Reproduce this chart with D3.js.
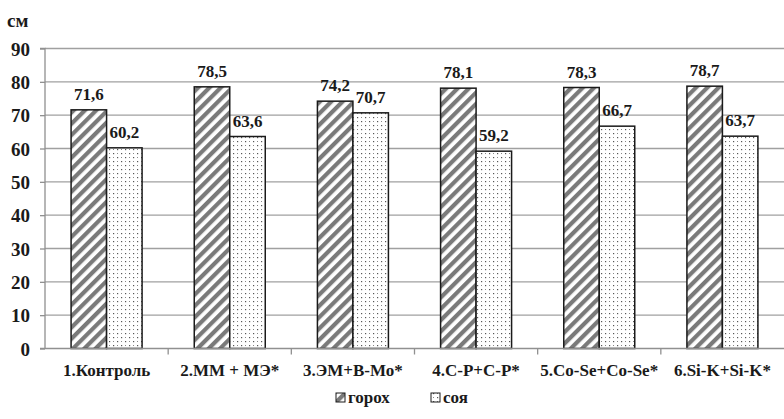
<!DOCTYPE html>
<html><head><meta charset="utf-8">
<script src="https://cdn.jsdelivr.net/npm/d3@7"></script>
<style>body{margin:0;background:#fff}svg{display:block}</style>
</head><body><svg id="c" width="784" height="419"></svg>
<script>
const categories = ["1.Контроль", "2.ММ + МЭ*", "3.ЭМ+В-Мо*", "4.С-Р+С-Р*", "5.Co-Se+Co-Se*", "6.Si-K+Si-K*"];
const seriesNames = ["горох", "соя"];
const gorokh = [71.6, 78.5, 74.2, 78.1, 78.3, 78.7];
const soya = [60.2, 63.6, 70.7, 59.2, 66.7, 63.7];
const yTicks = [0, 10, 20, 30, 40, 50, 60, 70, 80, 90];

const FONT = "Liberation Serif";
const svg = d3.select("#c");
const m = {l: 45, r: 784, t: 48.5, b: 348.5};
const defs = svg.append("defs");
const hatch = defs.append("pattern").attr("id","hatch").attr("patternUnits","userSpaceOnUse")
  .attr("width",8).attr("height",8).attr("patternTransform","rotate(45)");
hatch.append("rect").attr("width",8).attr("height",8).attr("fill","#fff");
hatch.append("rect").attr("x",0).attr("width",4.2).attr("height",8).attr("fill","#7a7a7a");
const dots = defs.append("pattern").attr("id","dots").attr("patternUnits","userSpaceOnUse")
  .attr("width",8).attr("height",8);
dots.append("rect").attr("width",8).attr("height",8).attr("fill","#fff");
dots.append("rect").attr("x",1).attr("y",1).attr("width",1.2).attr("height",1.2).attr("fill","#555");
dots.append("rect").attr("x",5).attr("y",5).attr("width",1.2).attr("height",1.2).attr("fill","#555");
dots.append("rect").attr("x",5).attr("y",1).attr("width",1).attr("height",1).attr("fill","#888");
dots.append("rect").attr("x",1).attr("y",5).attr("width",1).attr("height",1).attr("fill","#888");

const y = d3.scaleLinear().domain([0,90]).range([m.b, m.t]);
const x = d3.scaleBand().domain(categories).range([m.l, m.r]).paddingInner(0).paddingOuter(0);
const barW = 35.5;

function styleText(s, size){
  return s.style("font-family", FONT).style("font-weight","bold").style("font-size", size+"px").attr("fill","#1a1a1a");
}

svg.append("g").selectAll("line").data(yTicks.slice(1)).join("line")
  .attr("x1", m.l).attr("x2", m.r).attr("y1", d=>y(d)).attr("y2", d=>y(d))
  .attr("stroke","#a0a0a0").attr("stroke-width",1.3);

const yAxis = svg.append("g").attr("transform",`translate(${m.l},0)`)
  .call(d3.axisLeft(y).tickValues(yTicks).tickSize(5).tickPadding(10));
yAxis.select(".domain").attr("stroke","#909090").attr("stroke-width",1.3).attr("d",`M-5,${m.t}H0V${m.b}`);
yAxis.selectAll(".tick line").attr("stroke","#909090").attr("stroke-width",1.3);
styleText(yAxis.selectAll("text"), 19).attr("dy","0.35em");

const data = categories.map((c,i)=>({c, v:[gorokh[i], soya[i]]}));
const g = svg.append("g").selectAll("g").data(data).join("g");
g.each(function(d){
  const sel = d3.select(this);
  const cx = x(d.c) + x.bandwidth()/2;
  d.v.forEach((v,j)=>{
    const bx = cx - barW + j*barW;
    sel.append("rect").attr("x",bx).attr("y",y(v)).attr("width",barW).attr("height",y(0)-y(v))
      .attr("fill", j===0 ? "url(#hatch)" : "url(#dots)").attr("stroke","#1a1a1a").attr("stroke-width",1.5);
    styleText(sel.append("text").attr("x",bx+barW/2).attr("y",y(v)-10).attr("text-anchor","middle"), 17)
      .text(String(v).replace(".",","));
  });
});

const xAxis = svg.append("g").attr("transform",`translate(0,${m.b})`)
  .call(d3.axisBottom(x).tickSize(0).tickPadding(15));
xAxis.select(".domain").attr("stroke","#909090").attr("stroke-width",1.3).attr("d",`M${m.l-5},0H${m.r}`);
styleText(xAxis.selectAll("text"), 17);
svg.append("g").selectAll("line").data(categories.slice(1)).join("line")
  .attr("x1",d=>x(d)).attr("x2",d=>x(d)).attr("y1",m.b).attr("y2",m.b+6)
  .attr("stroke","#909090").attr("stroke-width",1.3);

styleText(svg.append("text").attr("x",7).attr("y",27), 19).text("см");

const leg = svg.append("g");
const legX = [336, 431];
seriesNames.forEach((n,i)=>{
  leg.append("rect").attr("x",legX[i]).attr("y",393).attr("width",9).attr("height",9)
    .attr("fill", i===0 ? "url(#hatch)" : "url(#dots)").attr("stroke","#1a1a1a").attr("stroke-width",1);
  styleText(leg.append("text").attr("x",legX[i]+12).attr("y",403), 17).text(n);
});
</script></body></html>
